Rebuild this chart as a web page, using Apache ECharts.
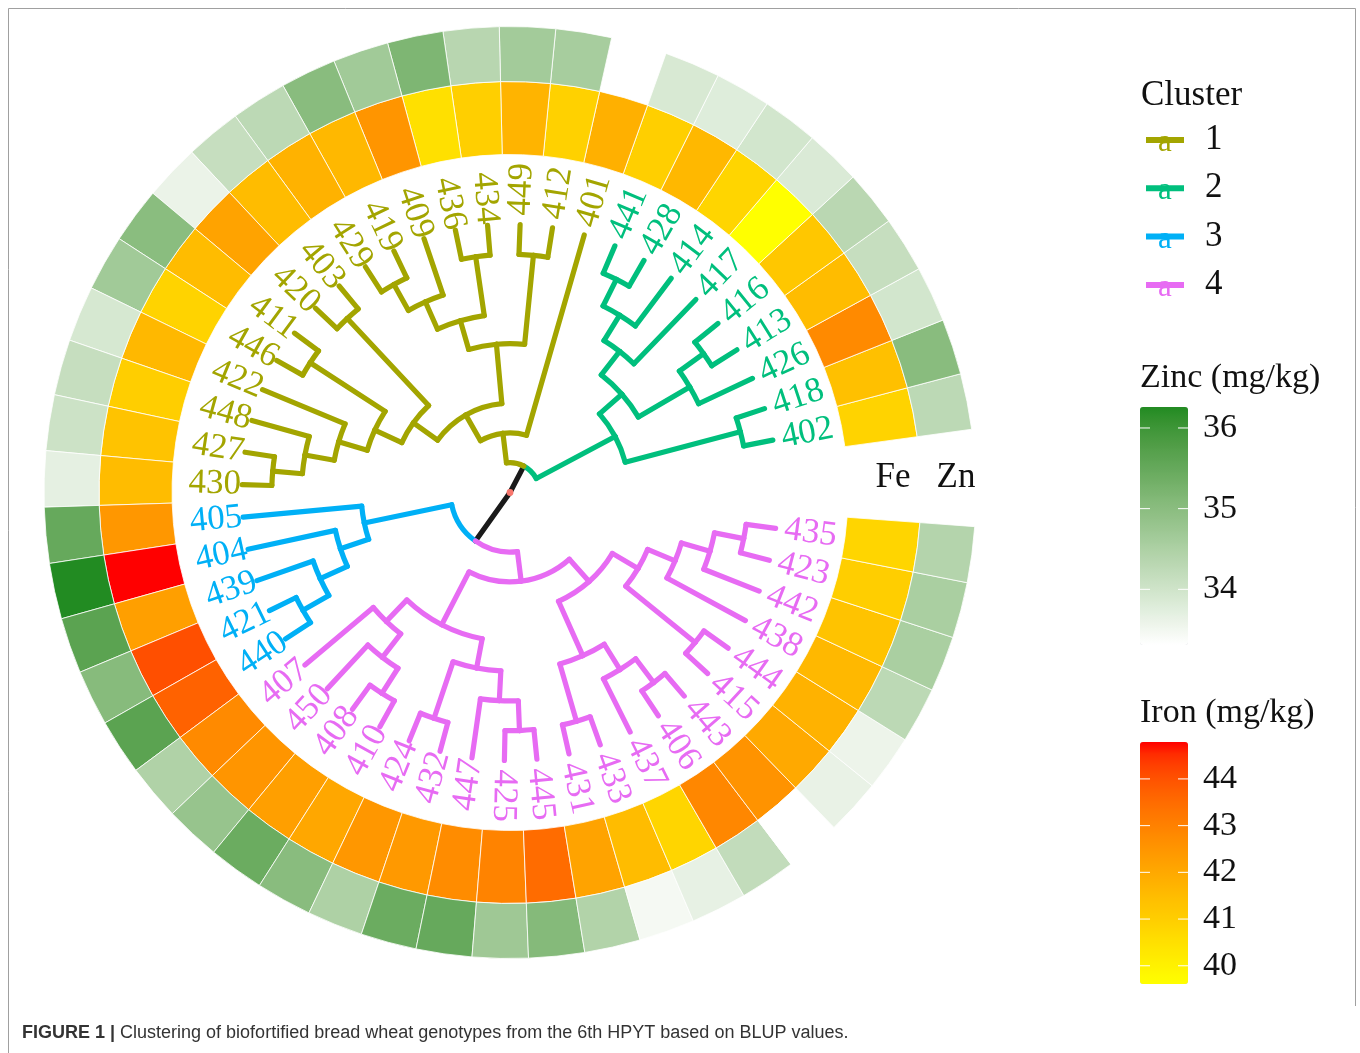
<!DOCTYPE html>
<html>
<head>
<meta charset="utf-8">
<title>Clustering of biofortified bread wheat genotypes</title>
<script src="https://cdn.jsdelivr.net/npm/echarts@6/dist/echarts.min.js"></script>
<style>
html,body{margin:0;padding:0;background:#ffffff;}
#chart{width:1360px;height:1053px;}
</style>
</head>
<body>
<div id="chart"></div>
<script>
// ---------------- data ----------------
// genotypes in tip order (counter-clockwise, starting just above the gap)
const genotypes = ['402','418','426','413','416','417','414','428','441',
  '401','412','449','434','436','409','419','429','403','420','411','446','422','448','427','430',
  '405','404','439','421','440',
  '407','450','408','410','424','432','447','425','445','431','433','437','406','443','415','444','438','442','423','435'];
const clusterOf = [2,2,2,2,2,2,2,2,2,
  1,1,1,1,1,1,1,1,1,1,1,1,1,1,1,1,
  3,3,3,3,3,
  4,4,4,4,4,4,4,4,4,4,4,4,4,4,4,4,4,4,4,4];
// Iron BLUP (mg/kg), same order as genotypes
const iron = [40.85, 41.4, 42.8, 41.5, 41.2, 39.61, 40.8, 41.6, 40.95, 41.8,
  40.9, 41.7, 40.95, 40.5, 42.5, 41.6, 41.75, 41.5, 42.15, 41.5,
  40.85, 41.6, 41.0, 41.3, 41.5, 42.45, 44.79, 42.25, 44.05, 43.7,
  42.8, 42.5, 42.25, 42.05, 42.45, 42.4, 42.75, 42.95, 43.5, 42.15,
  41.5, 40.8, 42.85, 42.55, 42.0, 41.75, 41.6, 41.3, 41.0, 40.8];
// Zinc BLUP (mg/kg), same order; null = missing
const zinc = [34.28, 35.02, 33.96, 34.14, 34.31, 33.84, 33.96, 33.78, 33.87, null,
  34.58, 34.64, 34.34, 35.17, 34.67, 35.02, 34.28, 34.14, 33.6, 35.0,
  34.67, 33.9, 34.14, 34.05, 33.69, 35.49, 36.26, 35.64, 35.05, 35.64,
  34.46, 34.81, 35.43, 35.02, 34.49, 35.43, 35.49, 34.7, 35.08, 34.43,
  33.46, 33.66, 34.2, 33.31, 33.63, 33.58, 34.28, 34.55, 34.55, 34.4];
// dendrogram topology (nested pairs)
const tree = [
  [
    [['402','418'], [['426',['413','416']], ['417',['414',['428','441']]]]],
    ['401', [[['412','449'], [['434','436'], ['409',['419','429']]]],
             [['403','420'], [['411','446'], ['422',['448',['427','430']]]]]]]
  ],
  [
    ['405',['404',['439',['421','440']]]],
    [[['407',['450',['408','410']]], [['424','432'], ['447',['425','445']]]],
     [[['431','433'], ['437',['406','443']]], [['415','444'], ['438',['442',['423','435']]]]]]
  ]
];
const clusterNames = ['1','2','3','4'];
const zincTicks = [34, 35, 36];
const ironTicks = [40, 41, 42, 43, 44];

// ---------------- style / layout ----------------
const clusterColors = {0:'#1a1a1a', 1:'#A3A500', 2:'#00BF7D', 3:'#00B0F6', 4:'#E76BF3'};
const SERIF = '"Liberation Serif", "DejaVu Serif", serif';
const SANS = '"Liberation Sans", Arial, sans-serif';
const CX = 510, CY = 492.5, R_OUT = 466, TIP_PX = 268;
const START_ANGLE = 7.8;          // degrees, first tip boundary above the gap
const CELL_DEG = 6.96;            // angular width of one tip
const TURN = 360 / CELL_DEG;      // angle-axis units per full turn
const FLIP_SHIFT = 1.75;
const LW = 5.2;

// Lab colour interpolation (like ggplot gradients)
function hexToRgb(h){ h=h.replace('#',''); return [0,2,4].map(i=>parseInt(h.substr(i,2),16)/255); }
function toLin(c){ return c<=0.04045? c/12.92 : Math.pow((c+0.055)/1.055,2.4); }
function fromLin(c){ return c<=0.0031308? 12.92*c : 1.055*Math.pow(c,1/2.4)-0.055; }
function rgbToLab(rgb){
  const [r,g,b]=rgb.map(toLin);
  const X=(0.4124564*r+0.3575761*g+0.1804375*b)/0.95047, Y=(0.2126729*r+0.7151522*g+0.0721750*b), Z=(0.0193339*r+0.1191920*g+0.9503041*b)/1.08883;
  const f=t=>t>0.008856?Math.cbrt(t):7.787*t+16/116;
  const fx=f(X),fy=f(Y),fz=f(Z);
  return [116*fy-16, 500*(fx-fy), 200*(fy-fz)];
}
function labToHex(lab){
  const fy=(lab[0]+16)/116, fx=fy+lab[1]/500, fz=fy-lab[2]/200;
  const inv=t=>{const t3=t*t*t; return t3>0.008856?t3:(t-16/116)/7.787;};
  const X=inv(fx)*0.95047, Y=inv(fy), Z=inv(fz)*1.08883;
  const r=3.2404542*X-1.5371385*Y-0.4985314*Z, g=-0.9692660*X+1.8760108*Y+0.0415560*Z, b=0.0556434*X-0.2040259*Y+1.0572252*Z;
  return '#'+[r,g,b].map(c=>{c=Math.round(Math.min(1,Math.max(0,fromLin(c)))*255); return c.toString(16).padStart(2,'0');}).join('');
}
function labRamp(lo, hi, n){
  const a=rgbToLab(hexToRgb(lo)), b=rgbToLab(hexToRgb(hi)); const out=[];
  for(let i=0;i<n;i++){const t=i/(n-1); out.push(labToHex(a.map((v,k)=>v+(b[k]-v)*t)));}
  return out;
}
const feRamp = labRamp('#FFFF00', '#FF0000', 21);
const znRamp = labRamp('#FFFFFF', '#228B22', 21);

// ---------------- tree layout (cladogram, tips aligned) ----------------
const tipIndex = {}; genotypes.forEach((g,i)=>tipIndex[g]=i);
function build(node){
  if (typeof node === 'string'){ const i=tipIndex[node]; return {angle:i+0.5, height:0, cl:clusterOf[i], kids:null}; }
  const kids=node.map(build);
  return {
    angle: kids.reduce((s,k)=>s+k.angle,0)/kids.length,
    height: Math.max(...kids.map(k=>k.height))+1,
    cl: kids.every(k=>k.cl===kids[0].cl)?kids[0].cl:0,
    kids
  };
}
const rootNode = build(tree);
const TIP_LEVEL = rootNode.height;
const UNIT = TIP_PX / TIP_LEVEL;            // px per level
const RMAX = R_OUT / UNIT;
const FE_R = [338/UNIT, 411/UNIT];
const ZN_R = [411/UNIT, R_OUT/UNIT];
const GAP_OUT = 9/UNIT, GAP_IN = 1/UNIT;
const edges=[];
(function walk(n){
  if(!n.kids) return;
  const pr=TIP_LEVEL-n.height;
  n.kids.forEach(k=>{ edges.push({pr, pa:n.angle, cr:TIP_LEVEL-k.height, ca:k.angle, cl:k.cl}); walk(k); });
})(rootNode);

function scrAngle(api, cs, r, a){ const p=api.coord([r,a]); return Math.atan2(p[1]-cs.cy, p[0]-cs.cx); }
function pxR(api, cs, r, a){ const p=api.coord([r,a]); return Math.hypot(p[0]-cs.cx, p[1]-cs.cy); }

function ringSeries(name, values, rr){
  return {
    type:'custom', name, coordinateSystem:'polar', polarIndex:0, z:2,
    data: values.map((v,i)=>[(rr[0]+rr[1])/2, i+0.5, v==null?'-':v]),
    renderItem(params, api){
      const v=api.value(2);
      if (v==null || isNaN(v)) return null;
      const a=api.value(1), cs=params.coordSys;
      const r0=pxR(api,cs,rr[0],a), r=pxR(api,cs,rr[1],a);
      const s=scrAngle(api,cs,rr[0],a+0.5); let e=scrAngle(api,cs,rr[0],a-0.5);
      while(e<=s) e+=2*Math.PI;
      return {type:'sector', shape:{cx:cs.cx, cy:cs.cy, r0, r, startAngle:s, endAngle:e, clockwise:true},
        style:{fill:api.visual('color'), stroke:'#ffffff', lineWidth:0.8}};
    }
  };
}

const treeSeries = {
  type:'custom', name:'tree', coordinateSystem:'polar', polarIndex:0, z:3,
  data: edges.map(e=>[e.cr, e.ca]),
  renderItem(params, api){
    const e=edges[params.dataIndex], cs=params.coordSys, color=clusterColors[e.cl];
    const p1=api.coord([e.pr, e.ca]), p2=api.coord([e.cr, e.ca]);
    const ch=[{type:'line', shape:{x1:p1[0],y1:p1[1],x2:p2[0],y2:p2[1]}, style:{stroke:color, lineWidth:LW, lineCap:'round'}}];
    if (e.pr>0){
      const r=pxR(api,cs,e.pr,e.pa);
      const s1=scrAngle(api,cs,e.pr,e.pa), s2=scrAngle(api,cs,e.pr,e.ca);
      let d=s2-s1; while(d>Math.PI) d-=2*Math.PI; while(d<-Math.PI) d+=2*Math.PI;
      const st=d>=0?s1:s2;
      ch.push({type:'arc', shape:{cx:cs.cx, cy:cs.cy, r, startAngle:st, endAngle:st+Math.abs(d), clockwise:true},
        style:{stroke:color, fill:null, lineWidth:LW, lineCap:'round'}});
    }
    return {type:'group', children:ch};
  }
};

const labelSeries = {
  type:'custom', name:'labels', coordinateSystem:'polar', polarIndex:0, z:4,
  data: genotypes.map((g,i)=>[TIP_LEVEL, i+0.5]),
  renderItem(params, api){
    const i=params.dataIndex, cs=params.coordSys, a=api.value(1);
    const p0=api.coord([api.value(0), a]);
    let th=-Math.atan2(p0[1]-cs.cy, p0[0]-cs.cx)*180/Math.PI; if(th<0) th+=360;
    const flip = th>90-FLIP_SHIFT && th<270-FLIP_SHIFT;
    const p=api.coord([api.value(0)+(flip?GAP_IN:GAP_OUT), a]);
    const rot=(flip?th-180:th)*Math.PI/180;
    return {type:'text', x:p[0], y:p[1], rotation:rot,
      style:{text:genotypes[i], fill:clusterColors[clusterOf[i]], fontSize:35, fontFamily:SERIF,
        align:flip?'right':'left', verticalAlign:'middle'}};
  }
};

// ---------------- legends ----------------
const feVals = iron.filter(v=>v!=null), znVals = zinc.filter(v=>v!=null);
const fMin=Math.min(...feVals), fMax=Math.max(...feVals), zMin=Math.min(...znVals), zMax=Math.max(...znVals);
const BAR_X=1140, BAR_W=48;
const ZBAR={top:407, h:238}, FBAR={top:742, h:242};

const graphic=[];
// frame
graphic.push({type:'polyline', silent:true, z:0, shape:{points:[[8.5,1053],[8.5,8.5],[1355.5,8.5],[1355.5,1006]]}, style:{stroke:'#a0a0a0', lineWidth:1, fill:null}});
// cluster legend
graphic.push({type:'text', x:1141, y:96, style:{text:'Cluster', fontSize:35, fontFamily:SERIF, fill:'#111', verticalAlign:'middle'}});
clusterNames.forEach((n,k)=>{
  const y=140+k*48.3, col=clusterColors[k+1];
  graphic.push({type:'line', shape:{x1:1146,y1:y,x2:1184,y2:y}, style:{stroke:col, lineWidth:6}});
  graphic.push({type:'text', x:1165, y:y+3, style:{text:'a', fontSize:31, fontFamily:SERIF, fill:col, align:'center', verticalAlign:'middle'}});
  graphic.push({type:'text', x:1205, y:y, style:{text:n, fontSize:35, fontFamily:SERIF, fill:'#111', verticalAlign:'middle'}});
});
// colour bar titles, ticks and labels
function barDecor(title, titleY, bar, ticks, mn, mx){
  graphic.push({type:'text', x:1140, y:titleY, style:{text:title, fontSize:34, fontFamily:SERIF, fill:'#111', verticalAlign:'middle'}});
  ticks.forEach(v=>{
    const y=bar.top+(mx-v)/(mx-mn)*bar.h;
    graphic.push({type:'line', z:10, shape:{x1:BAR_X,y1:y,x2:BAR_X+10,y2:y}, style:{stroke:'#ffffff', lineWidth:1}});
    graphic.push({type:'line', z:10, shape:{x1:BAR_X+BAR_W-10,y1:y,x2:BAR_X+BAR_W,y2:y}, style:{stroke:'#ffffff', lineWidth:1}});
    graphic.push({type:'text', x:1203, y:y, style:{text:String(v), fontSize:34, fontFamily:SERIF, fill:'#111', verticalAlign:'middle'}});
  });
}
barDecor('Zinc (mg/kg)', 378, ZBAR, zincTicks, zMin, zMax);
barDecor('Iron (mg/kg)', 713, FBAR, ironTicks, fMin, fMax);
// ring headers
graphic.push({type:'text', x:893, y:478, style:{text:'Fe', fontSize:35, fontFamily:SERIF, fill:'#111', align:'center', verticalAlign:'middle'}});
graphic.push({type:'text', x:956, y:478, style:{text:'Zn', fontSize:35, fontFamily:SERIF, fill:'#111', align:'center', verticalAlign:'middle'}});
// root point
graphic.push({type:'circle', z:100, shape:{cx:CX, cy:CY, r:3.4}, style:{fill:'#F8766D'}});
// caption
graphic.push({type:'text', x:22, y:1033, style:{
  text:'{b|FIGURE 1 |} Clustering of biofortified bread wheat genotypes from the 6th HPYT based on BLUP values.',
  fontSize:18, fontFamily:SANS, fill:'#333333', verticalAlign:'middle',
  rich:{b:{fontSize:18, fontFamily:SANS, fontWeight:'bold', fill:'#333333'}}}});

const option = {
  animation:false,
  backgroundColor:'#ffffff',
  polar:{center:[CX,CY], radius:R_OUT},
  angleAxis:{type:'value', min:0, max:TURN, startAngle:START_ANGLE, clockwise:false, show:false},
  radiusAxis:{type:'value', min:0, max:RMAX, show:false},
  visualMap:[
    {type:'continuous', seriesIndex:0, dimension:2, min:fMin, max:fMax, inRange:{color:feRamp},
     left:BAR_X, top:FBAR.top, itemWidth:BAR_W, itemHeight:FBAR.h, calculable:false, padding:0, hoverLink:false},
    {type:'continuous', seriesIndex:1, dimension:2, min:zMin, max:zMax, inRange:{color:znRamp},
     left:BAR_X, top:ZBAR.top, itemWidth:BAR_W, itemHeight:ZBAR.h, calculable:false, padding:0, hoverLink:false}
  ],
  series:[ringSeries('Fe', iron, FE_R), ringSeries('Zn', zinc, ZN_R), treeSeries, labelSeries],
  graphic:graphic
};
const chart = echarts.init(document.getElementById('chart'), null, {renderer:'canvas', width:1360, height:1053});
chart.setOption(option);
</script>
</body>
</html>
